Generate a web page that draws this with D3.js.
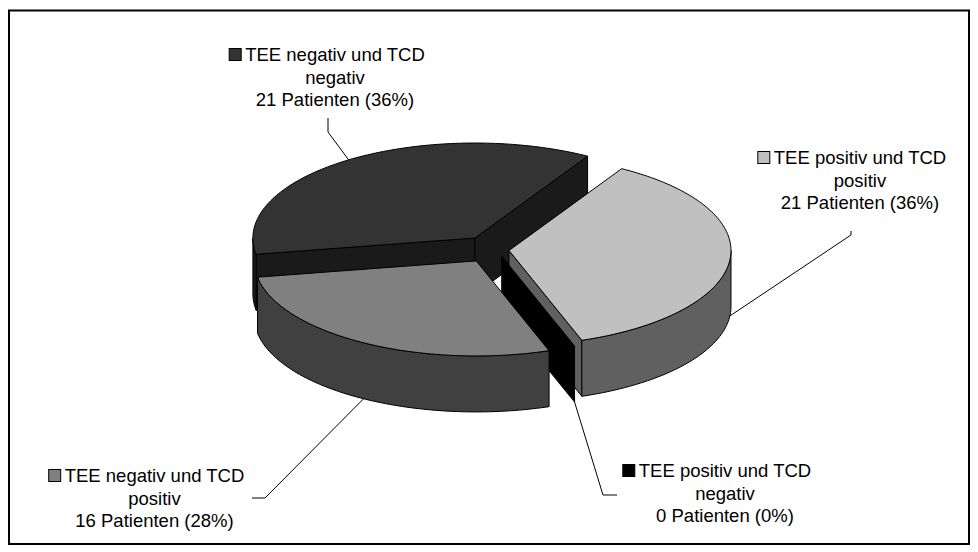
<!DOCTYPE html>
<html>
<head>
<meta charset="utf-8">
<script src="https://cdn.jsdelivr.net/npm/d3@7/dist/d3.min.js"></script>
<style>
  html, body { margin: 0; padding: 0; background: #ffffff; }
  svg { display: block; }
  text { font-family: "Liberation Sans", Arial, sans-serif; font-size: 18.5px; fill: #000; }
</style>
</head>
<body>
<svg id="chart" width="978" height="552"></svg>
<script>
// Patient groups by TEE / TCD findings
const categories = [
  "TEE positiv und TCD positiv",
  "TEE positiv und TCD negativ",
  "TEE negativ und TCD positiv",
  "TEE negativ und TCD negativ"
];
const patients = [21, 0, 16, 21];
const unitLabel = "Patienten";

// Fill colours of the slices (same order as categories)
const sliceColors = ["#C0C0C0", "#000000", "#808080", "#333333"];

// Label placement: centre of text, first baseline, leader elbow points
const labelLayout = [
  { x: 860,   y: 164, leader: [[851, 231], [851, 235]] },
  { x: 725,   y: 477, leader: [[617, 495], [603, 495]] },
  { x: 154.5, y: 482, leader: [[252, 498], [265, 498]] },
  { x: 335,   y: 61,  leader: [[328, 118], [328, 132]] }
];

// 3D pie geometry
const cx = 487.3, cy = 249.2;      // centre of top face
const rx = 222, ry = 95;           // ellipse radii of the top face
const depth = 56;                  // thickness of the pie
const explodeX = 21.8, explodeY = 13.6;
const startAngle = 30.5 * Math.PI / 180;
const lineHeight = 22.5;

const svg = d3.select("#chart");

// frame around the chart area
svg.append("rect")
  .attr("x", 9).attr("y", 10.5)
  .attr("width", 960).attr("height", 533.5)
  .attr("fill", "#fff").attr("stroke", "#000").attr("stroke-width", 2);

const total = d3.sum(patients);
const pct = d3.format(".0%");

const arcs = d3.pie().sort(null).value(d => d)
  .startAngle(startAngle).endAngle(startAngle + 2 * Math.PI)(patients);

// projection of a point on the pie (angle clockwise from 12 o'clock)
function proj(theta, r, off, dz) {
  return [cx + off[0] + r * rx * Math.sin(theta),
          cy + off[1] - r * ry * Math.cos(theta) + (dz || 0)];
}
function arcPoints(a0, a1, off, dz) {
  const n = Math.max(2, Math.ceil(Math.abs(a1 - a0) / 0.02));
  return d3.range(n + 1).map(i => proj(a0 + (a1 - a0) * i / n, 1, off, dz));
}
const line = d3.line().curve(d3.curveLinear);
function sideColor(c) {
  const k = d3.rgb(c);
  return d3.rgb(k.r * 0.5, k.g * 0.5, k.b * 0.5).formatHex();
}
const explodeOffset = mid => [explodeX * Math.sin(mid), -explodeY * Math.cos(mid)];

const slices = arcs.map((a, i) => {
  const mid = (a.startAngle + a.endAngle) / 2;
  let off = explodeOffset(mid);
  const span = a.endAngle - a.startAngle;
  if (span <= 1e-9 && i > 0) {
    // an empty group leans against the slice before it
    const prev = arcs[i - 1];
    const po = explodeOffset((prev.startAngle + prev.endAngle) / 2);
    off = [(off[0] + po[0]) / 2, (off[1] + po[1]) / 2];
  }
  // centroid "south-ness" for painter ordering
  const cd = span > 0 ? (2 / 3) * Math.sin(span / 2) / (span / 2) : 0.5;
  const depthKey = -Math.cos(mid) * cd - Math.cos(mid) * 0.3;
  return { a, i, mid, off, depthKey };
});

const pieG = svg.append("g");

slices.slice().sort((p, q) => p.depthKey - q.depthKey).forEach(s => {
  const { a, i, off } = s;
  const g = pieG.append("g");
  const top = sliceColors[i];
  const side = sideColor(top);
  const apex = proj(0, 0, off, 0);
  const a0 = a.startAngle, a1 = a.endAngle;

  const radial = (theta, fill) => {
    const r0 = proj(theta, 1, off, 0);
    const pts = [apex, r0, [r0[0], r0[1] + depth], [apex[0], apex[1] + depth]];
    g.append("path").attr("d", line(pts) + "Z")
      .attr("fill", fill).attr("stroke", "#000").attr("stroke-width", 1)
      .attr("stroke-linejoin", "round");
  };

  if (a1 - a0 <= 1e-9) {
    // empty group: only a thin wall remains
    radial(a0, top);
    return;
  }

  // radial side faces that turn towards the viewer
  if (Math.sin(a0) < 0) radial(a0, side);
  if (Math.sin(a1) > 0) radial(a1, side);

  // visible part of the outer curved side (front half)
  [[Math.PI / 2, 3 * Math.PI / 2], [5 * Math.PI / 2, 7 * Math.PI / 2]].forEach(([f0, f1]) => {
    const t0 = Math.max(a0, f0), t1 = Math.min(a1, f1);
    if (t1 > t0) {
      const upper = arcPoints(t0, t1, off, 0);
      const lower = arcPoints(t1, t0, off, depth);
      g.append("path").attr("d", line(upper.concat(lower)) + "Z")
        .attr("fill", side).attr("stroke", "#000").attr("stroke-width", 1)
        .attr("stroke-linejoin", "round");
    }
  });

  // top face
  const topPts = [apex].concat(arcPoints(a0, a1, off, 0));
  g.append("path").attr("d", line(topPts) + "Z")
    .attr("fill", top).attr("stroke", "#000").attr("stroke-width", 1)
    .attr("stroke-linejoin", "round");
});

// leader lines and labels
const labelG = svg.append("g");
slices.forEach(s => {
  const { i, mid, off } = s;
  const L = labelLayout[i];
  const front = -Math.cos(mid) > 0;
  const anchor = proj(mid, 1, off, front ? depth : 0);
  labelG.append("path")
    .attr("d", line(L.leader.concat([anchor])))
    .attr("fill", "none").attr("stroke", "#000").attr("stroke-width", 1);

  const words = categories[i].split(" ");
  const lines = [
    words.slice(0, -1).join(" "),
    words[words.length - 1],
    `${patients[i]} ${unitLabel} (${pct(patients[i] / total)})`
  ];
  const t = labelG.append("text").attr("text-anchor", "middle");
  lines.forEach((txt, k) => {
    t.append("tspan").attr("x", L.x).attr("y", L.y + k * lineHeight).text(txt);
  });
  const w1 = t.select("tspan").node().getComputedTextLength();
  const key = 12;
  labelG.append("rect")
    .attr("x", L.x - w1 / 2 - 4 - key)
    .attr("y", L.y - 12.5)
    .attr("width", key).attr("height", key)
    .attr("fill", sliceColors[i]).attr("stroke", "#000").attr("stroke-width", 1);
});
</script>
</body>
</html>
